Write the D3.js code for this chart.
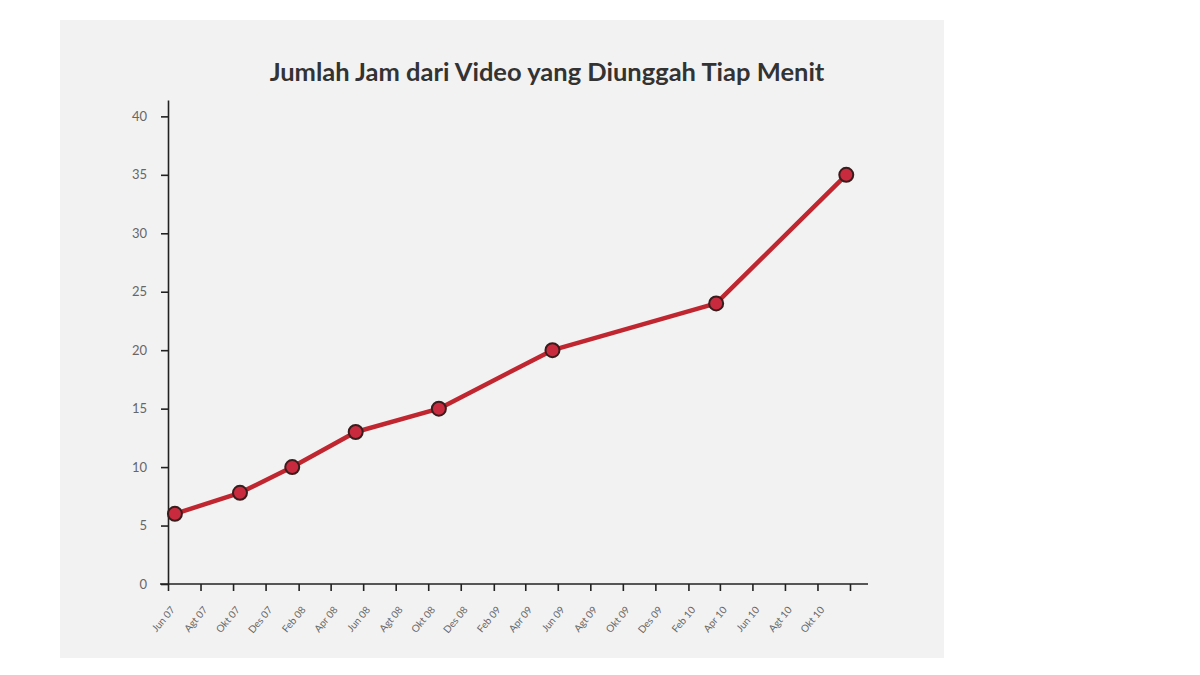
<!DOCTYPE html>
<html lang="id">
<head>
    <meta charset="UTF-8">
    <title>Jumlah Jam dari Video yang Diunggah Tiap Menit</title>
    <style>
        body { margin: 0; background: #fff; }
        .chart text { font-family: Lato, sans-serif; }
        .axis path, .axis line { stroke: #222; stroke-width: 1.6; }
        .axis text { fill: #666; }
    </style>
</head>
<body>
<svg class="chart"></svg>
<script src="https://d3js.org/d3.v7.min.js"></script>
<script>

// data: date of each point and hours uploaded per minute
var dates = ["2007-06-14", "2007-10-14", "2008-01-20", "2008-05-18",
             "2008-10-21", "2009-05-22", "2010-03-25", "2010-11-24"];
var hours = [6, 7.8, 10, 13, 15, 20, 24, 35];

var tickLabels = ["Jun 07", "Agt 07", "Okt 07", "Des 07", "Feb 08", "Apr 08",
                  "Jun 08", "Agt 08", "Okt 08", "Des 08", "Feb 09", "Apr 09",
                  "Jun 09", "Agt 09", "Okt 09", "Des 09", "Feb 10", "Apr 10",
                  "Jun 10", "Agt 10", "Okt 10", ""];
var yTicks = [0, 5, 10, 15, 20, 25, 30, 35, 40];

var title = "Jumlah Jam dari Video yang Diunggah Tiap Menit";

var width = 1200,
    height = 675;

var parse = d3.timeParse("%Y-%m-%d");
var data = dates.map(function(d, i) { return {date: parse(d), value: hours[i]}; });

var start = new Date(2007, 5, 1),
    end = new Date(2010, 11, 1);

var x = d3.scaleTime()
    .domain([start, end])
    .range([168, 850]);

var y = d3.scaleLinear()
    .domain([0, 41.4])
    .range([584, 100]);

var svg = d3.select(".chart")
    .attr("width", width)
    .attr("height", height);

// grey panel behind the chart
svg.append("rect")
    .attr("x", 60).attr("y", 20)
    .attr("width", 884).attr("height", 638)
    .attr("fill", "#f3f2f3");

svg.append("text")
    .attr("x", 547).attr("y", 81)
    .attr("text-anchor", "middle")
    .attr("font-size", 25.5)
    .attr("font-weight", "bold")
    .attr("fill", "#333")
    .text(title);

var tickDates = d3.timeMonth.range(start, d3.timeMonth.offset(end, 1), 2);

var xAxis = svg.append("g")
    .attr("class", "axis")
    .attr("transform", "translate(0," + y(0) + ")")
    .call(d3.axisBottom(x)
        .tickValues(tickDates)
        .tickSize(7)
        .tickFormat(function(d, i) { return tickLabels[i]; }));

xAxis.select(".domain").remove();
xAxis.append("line")
    .attr("x1", 160).attr("x2", 868)
    .attr("stroke", "#222").attr("stroke-width", 1.6);

xAxis.selectAll("text")
    .attr("font-size", 10)
    .attr("text-anchor", "end")
    .attr("dy", null)
    .attr("y", 0)
    .attr("transform", "translate(7,26) rotate(-50)");

var yAxis = svg.append("g")
    .attr("class", "axis")
    .attr("transform", "translate(168,0)")
    .call(d3.axisLeft(y)
        .tickValues(yTicks)
        .tickSize(7)
        .tickPadding(14)
        .tickSizeOuter(0));

yAxis.selectAll("text").attr("font-size", 13);

var line = d3.line()
    .x(function(d) { return x(d.date); })
    .y(function(d) { return y(d.value); });

svg.append("path")
    .datum(data)
    .attr("fill", "none")
    .attr("stroke", "#c0262f")
    .attr("stroke-width", 4.5)
    .attr("stroke-linejoin", "round")
    .attr("d", line);

svg.selectAll("circle")
    .data(data)
    .enter().append("circle")
    .attr("cx", function(d) { return x(d.date); })
    .attr("cy", function(d) { return y(d.value); })
    .attr("r", 7)
    .attr("fill", "#c92a3e")
    .attr("stroke", "#3a1c1c")
    .attr("stroke-width", 2);

</script>
</body>
</html>
